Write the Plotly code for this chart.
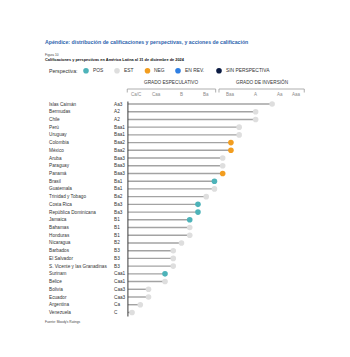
import plotly.graph_objects as go

# ---------------- data ----------------
countries = ["Islas Caimán", "Bermudas", "Chile", "Perú", "Uruguay", "Colombia", "México",
             "Aruba", "Paraguay", "Panamá", "Brasil", "Guatemala", "Trinidad y Tobago",
             "Costa Rica", "República Dominicana", "Jamaica", "Bahamas", "Honduras",
             "Nicaragua", "Barbados", "El Salvador", "S. Vicente y las Granadinas",
             "Surinam", "Belice", "Bolivia", "Ecuador", "Argentina", "Venezuela"]
ratings = ["Aa3", "A2", "A2", "Baa1", "Baa1", "Baa2", "Baa2", "Baa3", "Baa3", "Baa3",
           "Ba1", "Ba1", "Ba2", "Ba3", "Ba3", "B1", "B1", "B1", "B2", "B3", "B3", "B3",
           "Caa1", "Caa1", "Caa3", "Caa3", "Ca", "C"]
outlooks = ["EST", "EST", "EST", "EST", "EST", "NEG", "NEG", "EST", "EST", "NEG",
            "POS", "EST", "EST", "POS", "POS", "POS", "EST", "EST", "EST", "EST", "EST",
            "EST", "POS", "EST", "EST", "EST", "EST", "EST"]
rating_scale = ["C", "Ca", "Caa3", "Caa2", "Caa1", "B3", "B2", "B1", "Ba3", "Ba2", "Ba1",
                "Baa3", "Baa2", "Baa1", "A3", "A2", "A1", "Aa3", "Aa2", "Aa1", "Aaa"]
group_labels = ["Ca/C", "Caa", "B", "Ba", "Baa", "A", "Aa", "Aaa"]
group_centers = ["C", "Caa2", "B2", "Ba2", "Baa2", "A2", "Aa2", "Aaa"]
legend_keys = ["POS", "EST", "NEG", "EN REV.", "SIN PERSPECTIVA"]
outlook_colors = {"POS": "#4db3b9", "EST": "#dedede", "NEG": "#f29d1f",
                  "EN REV.": "#2f7fe3", "SIN PERSPECTIVA": "#0b1b42"}

score = {r: i + 1 for i, r in enumerate(rating_scale)}
values = [score[r] for r in ratings]
rows = list(range(len(countries)))

FONT = "Liberation Sans, Arial, sans-serif"
W, H = 350, 357
# pixel mapping helpers (x in rating units, y in row units)
X0, XS = 123.8, 8.24
Y0, YS = 104.0, 7.72
xr = [(0 - X0) / XS, (W - X0) / XS]
yr = [(H - Y0) / YS, (0 - Y0) / YS]
def rx(px):
    return (px - X0) / XS
def ry(py):
    return (py - Y0) / YS

fig = go.Figure()

# stems
sx, sy = [], []
for v, r in zip(values, rows):
    sx += [0.5, v, None]
    sy += [r, r, None]
fig.add_trace(go.Scatter(x=sx, y=sy, mode="lines",
                         line=dict(color="#a3a3a3", width=1.4),
                         hoverinfo="skip", showlegend=False))
# dots
fig.add_trace(go.Scatter(x=values, y=rows, mode="markers",
                         marker=dict(size=5.6, color=[outlook_colors[o] for o in outlooks],
                                     line=dict(width=0)),
                         showlegend=False))

# axis line
fig.add_shape(type="line", x0=0.5, x1=0.5, y0=ry(101.5), y1=ry(316.5),
              line=dict(color="#3a3a3a", width=1))

ann = []
# country + rating labels
for c, rt, r in zip(countries, ratings, rows):
    ann.append(dict(x=rx(46.5), y=r, text=c, xanchor="left", yanchor="middle",
                    showarrow=False, font=dict(size=4.7, color="#333", family=FONT)))
    ann.append(dict(x=rx(111.5), y=r, text=rt, xanchor="left", yanchor="middle",
                    showarrow=False, font=dict(size=4.7, color="#333", family=FONT)))

# group tick labels
for g, c in zip(group_labels, group_centers):
    cx = score[c] + (0.5 if g == "Ca/C" else 0)
    ann.append(dict(x=cx, y=ry(94.5), text=g, xanchor="center", yanchor="middle",
                    showarrow=False, font=dict(size=4.5, color="#8a8a8a", family=FONT)))

# brackets
ytop, ybot = ry(89), ry(92.5)
for a, b, lab in [(0.42, 11.15, "GRADO ESPECULATIVO"), (11.55, 21.9, "GRADO DE INVERSIÓN")]:
    fig.add_shape(type="path",
                  path=f"M {a},{ybot} L {a},{ytop} L {b},{ytop} L {b},{ybot}",
                  line=dict(color="#9a9a9a", width=0.8))
    ann.append(dict(x=(a + b) / 2, y=ry(82), text=lab, xanchor="center", yanchor="middle",
                    showarrow=False, font=dict(size=4.7, color="#333", family=FONT)))

# legend
ly = ry(70.7)
ann.append(dict(x=rx(47), y=ly, text="Perspectiva:", xanchor="left", yanchor="middle",
                showarrow=False, font=dict(size=5.2, color="#333", family=FONT)))
leg_px = [86, 117, 147.5, 178, 219]
fig.add_trace(go.Scatter(x=[rx(p) for p in leg_px], y=[ly] * len(leg_px), mode="markers",
                         marker=dict(size=5.6, color=[outlook_colors[k] for k in legend_keys]),
                         hoverinfo="skip", showlegend=False))
for p, k in zip(leg_px, legend_keys):
    ann.append(dict(x=rx(p + 4.5), y=ly, text=k, xanchor="left", yanchor="middle",
                    showarrow=False, font=dict(size=4.9, color="#333", family=FONT)))

# titles
ann.append(dict(x=43 / W, y=1 - 42 / H, xref="paper", yref="paper",
                text="<b>Apéndice: distribución de calificaciones y perspectivas, y acciones de calificación</b>",
                xanchor="left", yanchor="middle", showarrow=False,
                font=dict(size=5.2, color="#2c63ad", family=FONT)))
ann.append(dict(x=43 / W, y=1 - 55 / H, xref="paper", yref="paper", text="Figura 10",
                xanchor="left", yanchor="middle", showarrow=False,
                font=dict(size=3.2, color="#444", family=FONT)))
ann.append(dict(x=43 / W, y=1 - 59.7 / H, xref="paper", yref="paper",
                text="<b>Calificaciones y perspectivas en América Latina al 31 de diciembre de 2024</b>",
                xanchor="left", yanchor="middle", showarrow=False,
                font=dict(size=3.9, color="#111", family=FONT)))
ann.append(dict(x=43 / W, y=1 - 321.7 / H, xref="paper", yref="paper",
                text="Fuente: Moody's Ratings", xanchor="left", yanchor="middle",
                showarrow=False, font=dict(size=3.2, color="#444", family=FONT)))

fig.update_layout(width=W, height=H, margin=dict(l=0, r=0, t=0, b=0),
                  paper_bgcolor="white", plot_bgcolor="white",
                  xaxis=dict(range=xr, visible=False, fixedrange=True),
                  yaxis=dict(range=yr, visible=False, fixedrange=True),
                  annotations=ann, showlegend=False)
fig.write_html("out.html")
